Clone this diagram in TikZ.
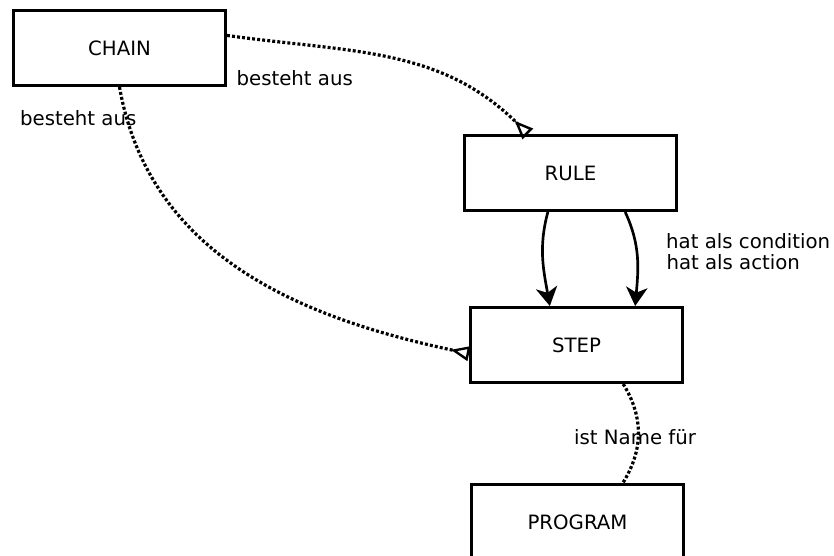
\documentclass[tikz,border=0pt]{standalone}
\usepackage{fontspec}
\setmainfont{DejaVu Sans}
\usepackage{tikz}
\usetikzlibrary{arrows.meta, positioning}

\begin{document}
\begin{tikzpicture}[-, x=0.75pt, y=0.75pt, font=\fontsize{14.8pt}{18pt}\selectfont,
		box/.style={draw, rectangle, line width=2.25pt, minimum width=159pt, minimum height=56.25pt},
		dots/.style={line width=2.4pt, dash pattern=on 2.2pt off 1.6pt, -{Triangle[open, reversed, length=14pt, width=11pt, line width=1.8pt]}},
		arr/.style={line width=2pt, -{Stealth[length=14pt, width=16pt, inset=4pt]}},
		lbl/.style={inner sep=0pt}]
		\useasboundingbox (0,0) rectangle (834,556);
		\node[box] (chain) at (119.5,508) {CHAIN};
		\node[box] (rule) at (570.5,383) {RULE};
		\node[box] (stp) at (576.5,211) {STEP};
		\node[box] (prog) at (577.5,34) {PROGRAM};
		
		
		\draw ([yshift=9.4pt]chain.east) edge[dots, out=-8, in=135] node[lbl, pos=0, anchor=base west, xshift=6pt, yshift=-37.5pt]{besteht aus} ([xshift=-32pt]rule.north) ;
		\draw (chain.south) edge[dots, out=-80, in=168] node[lbl, pos=0, anchor=base west, xshift=-75.75pt, yshift=-29.25pt]{besteht aus} ([yshift=-6.5pt]stp.west) ;
		\draw ([xshift=-17pt]rule.south) edge[arr, out=-105, in=100] node[lbl, pos=0, anchor=base west, xshift=87.75pt, yshift=-27.75pt]{hat als condition} ([xshift=-20pt]stp.north) ;
		\draw ([xshift=41pt]rule.south) edge[arr, out=-65, in=85] node[lbl, pos=0, anchor=base west, xshift=30pt, yshift=-43.5pt]{hat als action} ([xshift=44pt]stp.north) ;
		\draw ([xshift=35pt]stp.south) edge[dots, -, out=-58, in=58] node[lbl, pos=0.5, xshift=-2.5pt, yshift=-2.5pt]{ist Name für} ([xshift=34pt]prog.north) ;
		
	\end{tikzpicture}
\end{document}
